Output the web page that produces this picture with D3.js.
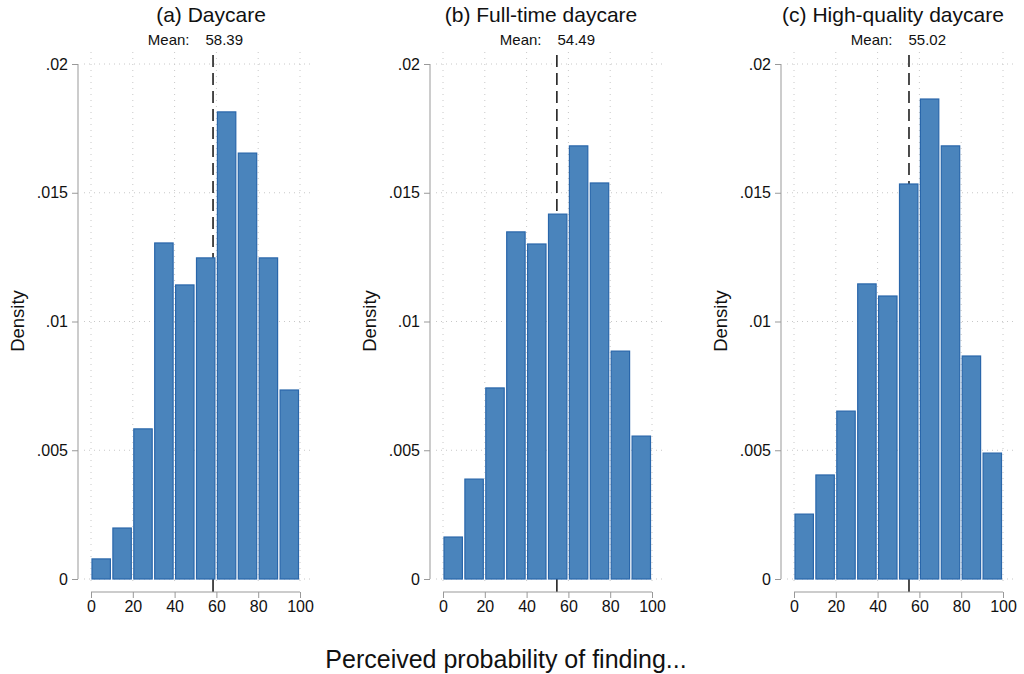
<!doctype html>
<html lang="en">
<head>
  <meta charset="utf-8">
  <title>Perceived probability histograms</title>
  <style>
    body { margin: 0; background: #fff; }
    svg text { font-family: "Liberation Sans", Arial, Helvetica, sans-serif; fill: #111; }
  </style>
</head>
<body>
  <div id="vis"></div>
  <script src="https://cdn.jsdelivr.net/npm/d3@7"></script>
  <script>
    // bin edges (0-10, 10-20, ... 90-100)
    const bins = [0, 10, 20, 30, 40, 50, 60, 70, 80, 90];
    const titles = ['(a) Daycare', '(b) Full-time daycare', '(c) High-quality daycare'];
    const means = [58.39, 54.49, 55.02];

    const daycare = [0.00078, 0.00198, 0.00583, 0.01305, 0.01142, 0.01247, 0.01814, 0.01654, 0.01247, 0.00734];
    const fullTime = [0.00163, 0.00388, 0.00742, 0.01348, 0.01301, 0.01417, 0.01682, 0.01538, 0.00885, 0.00555];
    const highQuality = [0.00252, 0.00404, 0.00652, 0.01146, 0.01099, 0.01534, 0.01864, 0.01682, 0.00866, 0.00489];

    const yTicks = [0, 0.005, 0.01, 0.015, 0.02];
    const yTickLabels = ['0', '.005', '.01', '.015', '.02'];
    const xTicks = [0, 20, 40, 60, 80, 100];

    const series = [daycare, fullTime, highQuality];
    const offsets = [0, 352, 703];
    const titleX = [211, 541, 893];

    const w = 1024, h = 674;
    const svg = d3.select('#vis').append('svg')
        .attr('width', w)
        .attr('height', h);

    const y = d3.scaleLinear().domain([0, 0.02]).range([579, 64]);

    series.forEach((vals, i) => {
        const ox = offsets[i];
        const x = d3.scaleLinear().domain([0, 100]).range([91 + ox, 300 + ox]);
        const g = svg.append('g');
        const left = x(0) - 7, right = x(100) + 12;

        // gridlines
        g.selectAll('.hgrid').data(yTicks).enter()
            .append('line')
                .attr('x1', left).attr('x2', right)
                .attr('y1', d => y(d)).attr('y2', d => y(d))
                .attr('stroke', '#c8c8c8')
                .attr('stroke-width', 1)
                .attr('stroke-dasharray', '1,4');
        g.selectAll('.vgrid').data(xTicks).enter()
            .append('line')
                .attr('x1', d => x(d)).attr('x2', d => x(d))
                .attr('y1', 52).attr('y2', 586)
                .attr('stroke', '#c8c8c8')
                .attr('stroke-width', 1)
                .attr('stroke-dasharray', '1,5');

        // mean line (behind the bars)
        g.append('line')
            .attr('x1', x(means[i])).attr('x2', x(means[i]))
            .attr('y1', 55).attr('y2', y(0))
            .attr('stroke', '#000')
            .attr('stroke-width', 1.4)
            .attr('stroke-dasharray', '12,6');
        g.append('line')
            .attr('x1', x(means[i])).attr('x2', x(means[i]))
            .attr('y1', y(0)).attr('y2', 592)
            .attr('stroke', '#000')
            .attr('stroke-width', 1.4);

        // bars
        g.selectAll('.bar').data(vals).enter()
            .append('rect')
                .attr('x', (d, j) => x(bins[j]) + 1)
                .attr('width', (d, j) => x(bins[j] + 10) - x(bins[j]) - 2.5)
                .attr('y', d => y(d))
                .attr('height', d => y(0) - y(d))
                .attr('fill', '#4a84bc')
                .attr('stroke', '#2966aa')
                .attr('stroke-width', 1.2);

        // y axis
        const yax = d3.axisLeft(y).tickValues(yTicks)
            .tickFormat((d, k) => yTickLabels[k]).tickSize(6).tickPadding(4);
        const ya = g.append('g')
            .attr('transform', `translate(${78 + ox},0)`)
            .call(yax);
        ya.select('.domain').attr('stroke', '#999').attr('d', `M0,${y(0)}V${y(0.02)}`);
        ya.selectAll('.tick line').attr('stroke', '#999');
        ya.selectAll('.tick text').style('font-size', '16px').attr('fill', '#111');

        // x axis
        const xax = d3.axisBottom(x).tickValues(xTicks).tickSize(6).tickPadding(3);
        const xa = g.append('g')
            .attr('transform', 'translate(0,592)')
            .call(xax);
        xa.select('.domain').attr('stroke', '#999').attr('d', `M${x(0)},0H${x(100)}`);
        xa.selectAll('.tick line').attr('stroke', '#999');
        xa.selectAll('.tick text').style('font-size', '16px').attr('fill', '#111');

        // titles
        const cx = (x(0) + x(100)) / 2;
        g.append('text')
            .attr('x', titleX[i]).attr('y', 22)
            .attr('text-anchor', 'middle')
            .style('font-size', '21px')
            .text(titles[i]);
        g.append('text')
            .attr('x', cx - 6).attr('y', 45)
            .attr('text-anchor', 'end')
            .style('font-size', '15px')
            .text('Mean:');
        g.append('text')
            .attr('x', cx + 10).attr('y', 45)
            .style('font-size', '15px')
            .text(means[i].toFixed(2));

        g.append('text')
            .attr('transform', 'rotate(-90)')
            .attr('x', -321).attr('y', 24 + ox)
            .attr('text-anchor', 'middle')
            .style('font-size', '18.5px')
            .text('Density');
    });

    svg.append('text')
        .attr('x', 506).attr('y', 668)
        .attr('text-anchor', 'middle')
        .style('font-size', '25px')
        .text('Perceived probability of finding...');
  </script>
</body>
</html>
